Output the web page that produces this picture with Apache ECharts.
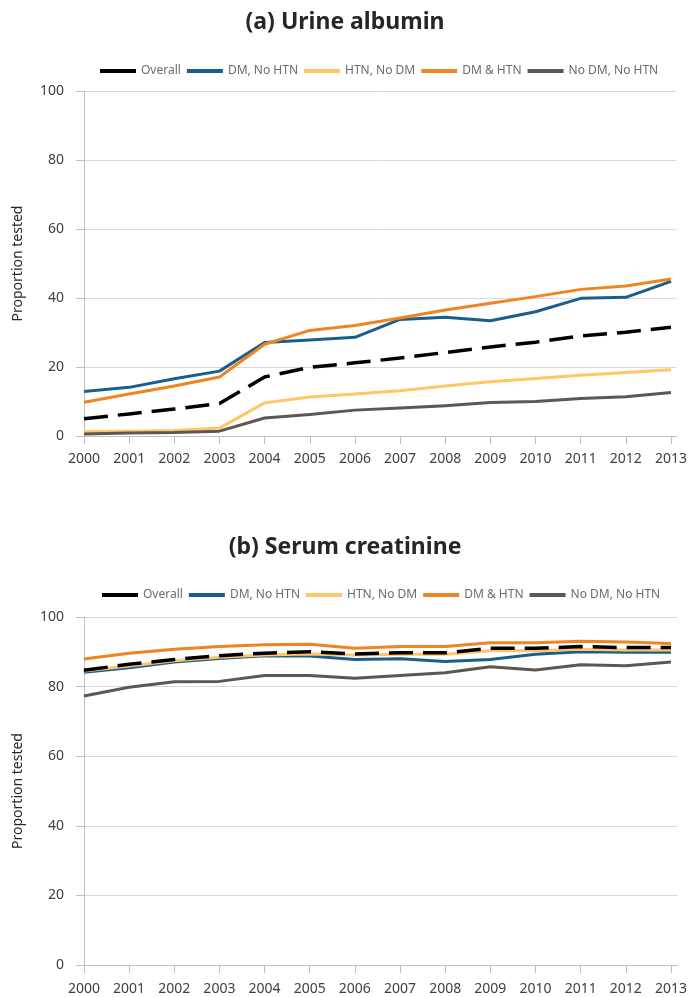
<!DOCTYPE html>
<html lang="en">
<head>
<meta charset="utf-8">
<title>Proportion tested</title>
<script src="https://cdn.jsdelivr.net/npm/echarts@6/dist/echarts.min.js"></script>
<style type="text/css">
html, body {
	margin: 0;
	padding: 0;
	background: #ffffff;
}
</style>
</head>
<body>
	<div id="main" style="width: 690px; height: 997px;"></div>

<script type="text/javascript">
	// years on the x axis
	var years = [ '2000', '2001', '2002', '2003', '2004', '2005', '2006',
			'2007', '2008', '2009', '2010', '2011', '2012', '2013' ];
	var seriesNames = [ 'Overall', 'DM, No HTN', 'HTN, No DM', 'DM & HTN', 'No DM, No HTN' ];
	var yTicks = [ 0, 20, 40, 60, 80, 100 ];

	// (a) Urine albumin
	var albOverall = [ 5.0, 6.4, 7.8, 9.4, 17.1, 19.9, 21.2, 22.6, 24.2, 25.8, 27.2, 29.0, 30.1, 31.5 ];
	var albDmNoHtn = [ 12.9, 14.1, 16.6, 18.8, 27.1, 27.8, 28.6, 33.8, 34.4, 33.4, 36.0, 39.9, 40.2, 44.8 ];
	var albHtnNoDm = [ 1.2, 1.4, 1.6, 2.3, 9.6, 11.3, 12.2, 13.1, 14.5, 15.7, 16.7, 17.6, 18.4, 19.2 ];
	var albDmHtn = [ 9.8, 12.2, 14.5, 17.1, 26.6, 30.6, 32.0, 34.2, 36.5, 38.5, 40.4, 42.5, 43.5, 45.5 ];
	var albNone = [ 0.6, 0.9, 1.0, 1.4, 5.2, 6.2, 7.5, 8.1, 8.8, 9.7, 10.0, 10.9, 11.4, 12.6 ];

	// (b) Serum creatinine
	var creOverall = [ 84.7, 86.4, 87.8, 88.9, 89.6, 90.0, 89.4, 89.7, 89.7, 91.0, 91.0, 91.5, 91.2, 91.2 ];
	var creDmNoHtn = [ 84.1, 85.4, 87.1, 88.1, 88.9, 88.8, 87.8, 88.0, 87.2, 87.8, 89.3, 90.0, 89.9, 89.9 ];
	var creHtnNoDm = [ 84.5, 85.9, 87.4, 88.4, 89.1, 89.4, 89.1, 89.3, 89.3, 90.3, 90.3, 90.7, 90.5, 90.5 ];
	var creDmHtn = [ 87.9, 89.6, 90.7, 91.5, 92.0, 92.2, 91.0, 91.5, 91.5, 92.6, 92.6, 93.0, 92.8, 92.4 ];
	var creNone = [ 77.3, 79.8, 81.4, 81.5, 83.2, 83.2, 82.4, 83.2, 84.0, 85.7, 84.8, 86.3, 86.0, 87.1 ];

	var colors = {
		'Overall' : '#000000',
		'DM, No HTN' : '#1b5e8c',
		'HTN, No DM' : '#ffc566',
		'DM & HTN' : '#f08420',
		'No DM, No HTN' : '#5e5650'
	};

	var font = 'Noto Sans';
	var tickIdx = years.map(function(y, i) {
		return i;
	});

	function pairs(arr) {
		return arr.map(function(v, i) {
			return [ i, v ];
		});
	}

	function makeSeries(gridIdx, name, arr) {
		var dashed = name === 'Overall';
		return {
			type : 'line',
			name : name,
			xAxisIndex : gridIdx,
			yAxisIndex : gridIdx,
			data : pairs(arr),
			symbol : 'none',
			color : colors[name],
			z : dashed ? 5 : 3,
			lineStyle : {
				width : dashed ? 3.5 : 3,
				type : dashed ? [ 24, 10 ] : 'solid',
				cap : 'butt',
				join : 'round'
			},
			animation : false
		};
	}

	function xAxisFor(gridIdx, min, max, labelMargin) {
		return {
			type : 'value',
			gridIndex : gridIdx,
			min : min,
			max : max,
			splitLine : { show : false },
			axisLine : { show : true, lineStyle : { color : '#bfbfbf', width : 1 } },
			axisTick : {
				show : true,
				length : 8,
				customValues : tickIdx,
				lineStyle : { color : '#bfbfbf' }
			},
			axisLabel : {
				customValues : tickIdx,
				margin : labelMargin,
				fontFamily : font,
				fontSize : 14,
				color : '#404040',
				formatter : function(v) {
					return years[Math.round(v)];
				}
			}
		};
	}

	function yAxisFor(gridIdx) {
		return {
			type : 'value',
			gridIndex : gridIdx,
			min : yTicks[0],
			max : yTicks[yTicks.length - 1],
			interval : 20,
			name : 'Proportion tested',
			nameLocation : 'middle',
			nameRotate : 90,
			nameGap : 52,
			nameTextStyle : { fontFamily : font, fontSize : 14, color : '#262626' },
			axisLine : { show : true, lineStyle : { color : '#bfbfbf', width : 1 } },
			axisTick : { show : true, length : 8, lineStyle : { color : '#bfbfbf' } },
			axisLabel : { margin : 13, fontFamily : font, fontSize : 14, color : '#404040' },
			splitLine : { show : true, lineStyle : { color : '#d9d9d9', width : 1 } }
		};
	}

	function legendFor(left, top) {
		return {
			left : left,
			top : top,
			padding : 0,
			icon : 'rect',
			itemWidth : 36,
			itemHeight : 4,
			itemGap : 6,
			data : seriesNames,
			textStyle : { fontFamily : font, fontSize : 12, color : '#6b6b6b' }
		};
	}

	var myChart = echarts.init(document.getElementById('main'));

	// draw Overall last so its dashes sit on top
	var drawOrder = [ 1, 2, 3, 4, 0 ];
	var albArrays = [ albOverall, albDmNoHtn, albHtnNoDm, albDmHtn, albNone ];
	var creArrays = [ creOverall, creDmNoHtn, creHtnNoDm, creDmHtn, creNone ];
	var series = [];
	drawOrder.forEach(function(k) {
		series.push(makeSeries(0, seriesNames[k], albArrays[k]));
	});
	drawOrder.forEach(function(k) {
		series.push(makeSeries(1, seriesNames[k], creArrays[k]));
	});

	var option = {
		backgroundColor : '#ffffff',
		animation : false,
		title : [ {
			text : '(a) Urine albumin',
			left : 'center',
			top : 6,
			textStyle : { fontFamily : font, fontSize : 23, fontWeight : 'bold', color : '#262626' }
		}, {
			text : '(b) Serum creatinine',
			left : 'center',
			top : 531,
			textStyle : { fontFamily : font, fontSize : 23, fontWeight : 'bold', color : '#262626' }
		} ],
		legend : [ legendFor(100, 65), legendFor(102, 589) ],
		grid : [ {
			left : 77,
			right : 13,
			top : 91,
			height : 345
		}, {
			left : 77,
			right : 6,
			top : 617,
			height : 348
		} ],
		xAxis : [ xAxisFor(0, -0.155, 13.117, 16), xAxisFor(1, -0.153, 13.14, 17) ],
		yAxis : [ yAxisFor(0), yAxisFor(1) ],
		series : series
	};
	myChart.setOption(option);
</script>
</body>
</html>
